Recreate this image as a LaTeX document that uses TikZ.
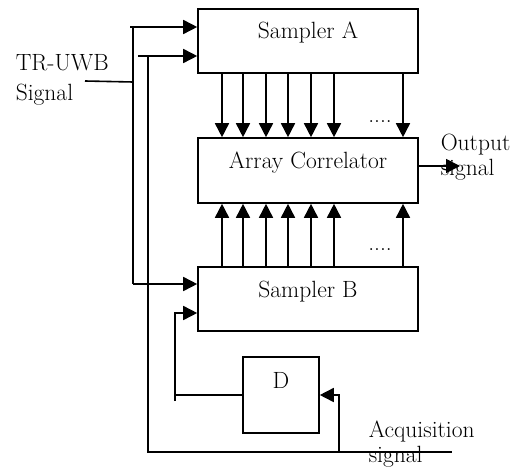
\documentclass[tikz,border=0pt]{standalone}
\usepackage{fontspec}
\usetikzlibrary{arrows.meta}
\begin{document}
\begin{tikzpicture}[x=1pt,y=-1pt, line width=1.6pt,
  box/.style={draw, line width=1.6pt, inner sep=0pt},
  lbl/.style={font=\fontsize{23.5}{28}\selectfont, inner sep=0pt},
  arr/.style={-{Triangle[length=14pt,width=14pt]}}]
\useasboundingbox (0,0) rectangle (516,468);
% boxes
\node[box, minimum width=220pt, minimum height=64pt] (sa) at (308,41) {};
\node[box, minimum width=220pt, minimum height=65pt] (cor) at (308,170.5) {};
\node[box, minimum width=220pt, minimum height=64pt] (sb) at (308,299) {};
\node[box, minimum width=76pt, minimum height=76pt] (d) at (281,395) {};
% box texts
\node[lbl, anchor=base] (tsa) at (308,39) {Sampler A};
\node[lbl, anchor=base] (tcor) at (308,168) {Array Correlator};
\node[lbl, anchor=base] (tsb) at (308,297) {Sampler B};
\node[lbl, anchor=base] (td) at (281,388) {D};
% parallel arrows
\foreach \i/\x in {1/222,2/243,3/266,4/288,5/311,6/334,7/403}{
  \coordinate (c\i) at (\x,0);
  \draw[arr] (sa.south -| c\i) -- (cor.north -| c\i);
  \draw[arr] (sb.north -| c\i) -- (cor.south -| c\i);
}
\node[lbl, anchor=base] (dots1) at (380,122) {....};
\node[lbl, anchor=base] (dots2) at (380,250) {....};
% output
\node[lbl, anchor=base west] (o1) at (440,150) {Output};
\node[lbl, anchor=base west] (o2) at (440,175) {signal};
\coordinate (out) at (460,166);
\draw[arr] (cor.east |- out) -- (out);
% TR-UWB input
\node[lbl, anchor=base west] (tr1) at (15,71) {TR-UWB};
\node[lbl, anchor=base west] (tr2) at (15,100) {Signal};
\coordinate (s0) at (85,81);
\coordinate (j1) at (133,82);
\coordinate (t0) at (130,27);
\coordinate (t1) at (133,27);
\coordinate (b1) at (133,284);
\draw (s0) -- (j1);
\draw (t1) -- (b1);
\draw[arr] (t0) -- (sa.west |- t0);
\draw[arr] (b1) -- (sb.west |- b1);
% acquisition line
\coordinate (u0) at (138,56);
\coordinate (u1) at (148,56);
\coordinate (u2) at (148,452);
\coordinate (u3) at (452,452);
\draw[arr] (u0) -- (sa.west |- u0);
\draw (u1) -- (u2) -- (u3);
\node[lbl, anchor=base west] (a1) at (368,437) {Acquisition};
\node[lbl, anchor=base west] (a2) at (368,462) {signal};
% into D
\coordinate (dv) at (339,452);
\draw[arr] (dv) -- (dv |- d.east) -- (d.east);
% D feedback to sampler B
\coordinate (f0) at (175,401);
\coordinate (f1) at (175,313);
\draw (d.west) -- (174,395);
\draw[arr] (f0) -- (f1) -- (sb.west |- f1);
\end{tikzpicture}
\end{document}
